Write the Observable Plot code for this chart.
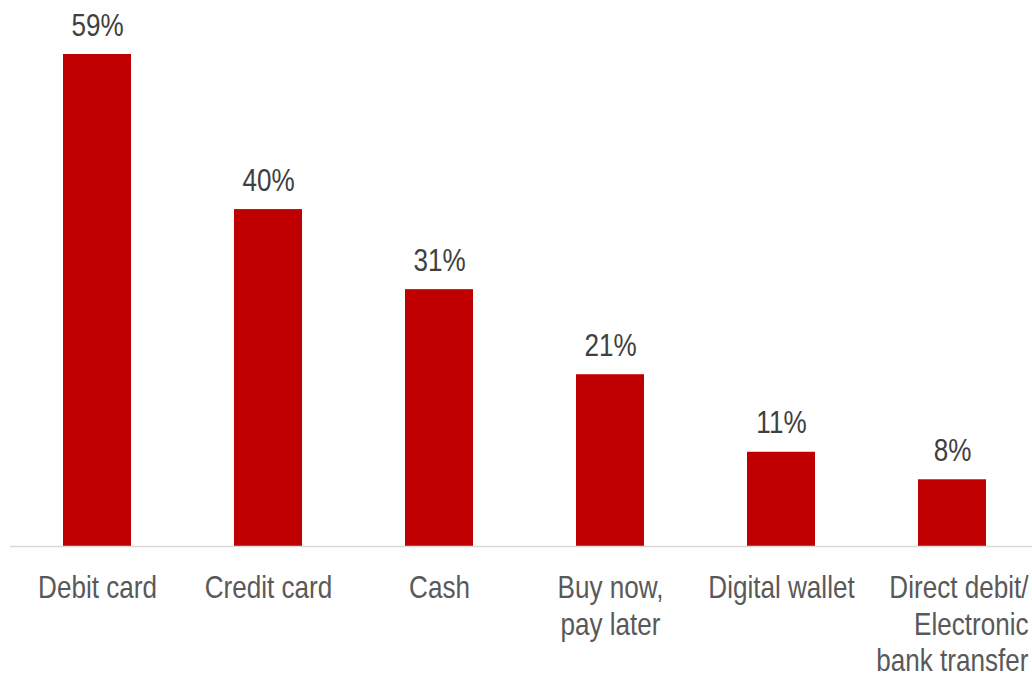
<!DOCTYPE html>
<html>
<head>
<meta charset="utf-8">
<script src="https://cdn.jsdelivr.net/npm/d3@7"></script>
<script src="https://cdn.jsdelivr.net/npm/@observablehq/plot@0.6"></script>
<style>
  html, body { margin: 0; padding: 0; background: #fff; overflow: hidden; }
  #chart svg { display: block; font-family: "Liberation Sans", Arial, sans-serif; }
</style>
</head>
<body>
<div id="chart"></div>
<script>
const categories = ["Debit card", "Credit card", "Cash", "Buy now,\npay later", "Digital wallet", "Direct debit/\nElectronic\nbank transfer"];
const values = [59, 40.4, 30.8, 20.6, 11.3, 8];
const valueLabels = ["59%", "40%", "31%", "21%", "11%", "8%"];

const data = categories.map((c, i) => ({category: c, value: values[i], label: valueLabels[i]}));
const centered = data.slice(0, 5);
const lastOne = data.slice(5);

const chart = Plot.plot({
  width: 1032,
  height: 674,
  marginTop: 54,
  marginBottom: 128,
  marginLeft: 10,
  marginRight: 0,
  style: {fontSize: "32px", background: "#fff"},
  x: {domain: categories, paddingInner: 0.603, paddingOuter: 0.2863, align: 0.5304, axis: null},
  y: {domain: [0, 59], axis: null},
  marks: [
    Plot.barY(data, {x: "category", y: "value", fill: "#C00000"}),
    Plot.ruleY([0], {stroke: "#d9d9d9", strokeWidth: 1.5}),
    Plot.text(data, {x: "category", y: "value", text: "label", lineAnchor: "bottom", dy: -19, fill: "#404040", fontSize: 32}),
    Plot.text(centered, {x: "category", y: 0, text: "category", lineAnchor: "top", dy: 26, fill: "#595959", fontSize: 32, lineHeight: 1.14}),
    Plot.text(lastOne, {x: "category", y: 0, text: "category", lineAnchor: "top", textAnchor: "end", dx: 76, dy: 26, fill: "#595959", fontSize: 32, lineHeight: 1.14})
  ]
});
// condense the glyphs horizontally around each label's anchor (mimics a narrow typeface)
chart.querySelectorAll('g[aria-label="text"] text').forEach(t => {
  const tr = t.getAttribute("transform") || "";
  t.setAttribute("transform", tr + " scale(0.815,1)");
});
document.getElementById("chart").appendChild(chart);
</script>
</body>
</html>
